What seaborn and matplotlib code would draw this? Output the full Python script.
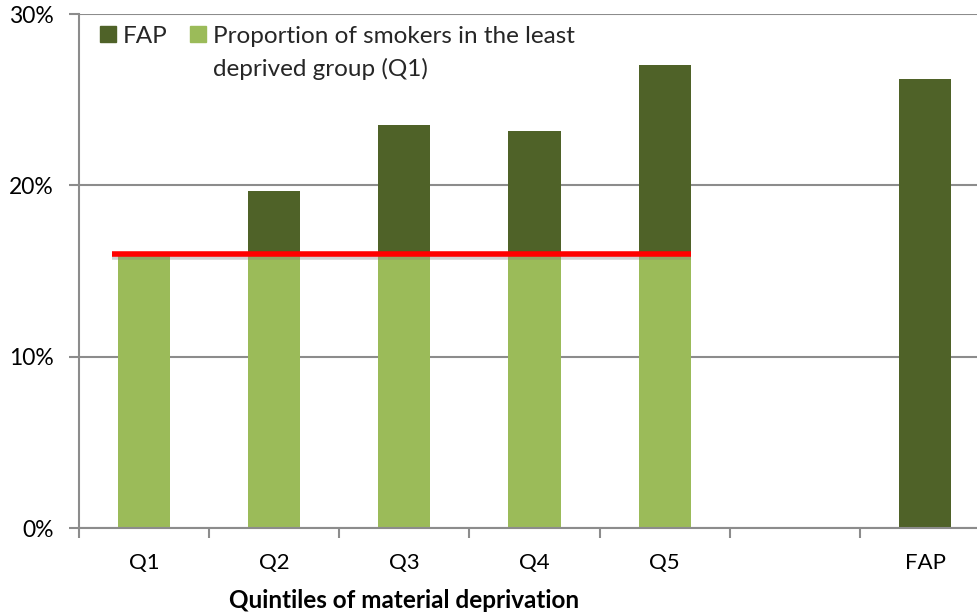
import matplotlib
matplotlib.use("Agg")
import matplotlib.pyplot as plt
import matplotlib.patheffects as pe
from matplotlib.patches import Rectangle
from matplotlib.ticker import FuncFormatter
import seaborn as sns
import pandas as pd
import numpy as np

# ---- data ----
categories = ["Q1", "Q2", "Q3", "Q4", "Q5", " ", "FAP"]
total_values = [16.0, 19.7, 23.5, 23.2, 27.0, 0.0, 26.2]
q1_values = [16.0, 16.0, 16.0, 16.0, 16.0, 0.0, 0.0]
reference_level = 16.0
y_ticks = [0, 10, 20, 30]
legend_labels = ["FAP", "Proportion of smokers in the least\ndeprived group (Q1)"]
x_label = "Quintiles of material deprivation"

DARK = "#4F6228"
LIGHT = "#9BBB59"
GRID = "#8c8c8c"

sns.set_theme(style="white")
plt.rcParams["font.family"] = ["Lato", "DejaVu Sans"]

fig = plt.figure(figsize=(9.78, 6.12), dpi=100)
ax = fig.add_axes([0.0808, 0.1368, 0.9315, 0.8403])

df = pd.DataFrame({"cat": categories, "total": total_values, "q1": q1_values})
sns.barplot(data=df, x="cat", y="total", order=categories, color=DARK,
            saturation=1, width=0.4, errorbar=None, linewidth=0, ax=ax)
sns.barplot(data=df, x="cat", y="q1", order=categories, color=LIGHT,
            saturation=1, width=0.4, errorbar=None, linewidth=0, ax=ax)

ax.plot([-0.25, 4.2], [reference_level, reference_level], color="#FF0000",
        lw=4, solid_capstyle="butt", zorder=5,
        path_effects=[pe.SimpleLineShadow(offset=(0, -2), shadow_color="gray", alpha=0.35),
                      pe.Normal()])

ax.set_xlim(-0.5, len(categories) - 0.5)
ax.set_ylim(0, 30)
ax.set_yticks(y_ticks)
ax.yaxis.set_major_formatter(FuncFormatter(lambda v, p: f"{v:.0f}%"))
ax.yaxis.grid(True, color=GRID, lw=1.5)
ax.set_axisbelow(True)

for s in ["top", "right"]:
    ax.spines[s].set_visible(False)
for s in ["left", "bottom"]:
    ax.spines[s].set_color(GRID)
    ax.spines[s].set_linewidth(1.5)

ax.tick_params(axis="y", left=True, length=7, width=1.5, color=GRID,
               pad=11, labelsize=16.5, labelcolor="black")
ax.set_xticks(range(len(categories)))
ax.set_xticklabels(categories)
ax.tick_params(axis="x", which="major", bottom=False, length=0, pad=18,
               labelsize=16, labelcolor="black")
ax.set_xticks(np.arange(-0.5, len(categories), 1.0), minor=True)
ax.tick_params(axis="x", which="minor", bottom=True, length=7, width=1.5,
               color=GRID, direction="out")

ax.set_ylabel("")
ax.set_xlabel(x_label, fontsize=17.5, fontweight="bold", color="black")
ax.xaxis.set_label_coords(2.5 / len(categories), -0.118)

handles = [Rectangle((0, 0), 1, 1, color=DARK), Rectangle((0, 0), 1, 1, color=LIGHT)]
leg = ax.legend(handles, legend_labels, ncol=2, loc="upper left",
                bbox_to_anchor=(100 / 978, 1 - 26 / 612), bbox_transform=fig.transFigure,
                frameon=False, fontsize=17.5, handlelength=0.65, handleheight=0.65,
                handletextpad=0.3, columnspacing=0.9, borderpad=0, borderaxespad=0)
for t in leg.get_texts():
    t.set_linespacing(1.6)
try:
    leg._legend_handle_box.align = "top"
    for vp in leg._legend_handle_box.get_children():
        vp.align = "left"
        for hp in vp.get_children():
            hp.align = "top"
except Exception:
    pass

fig.savefig("out.png", dpi=100)
